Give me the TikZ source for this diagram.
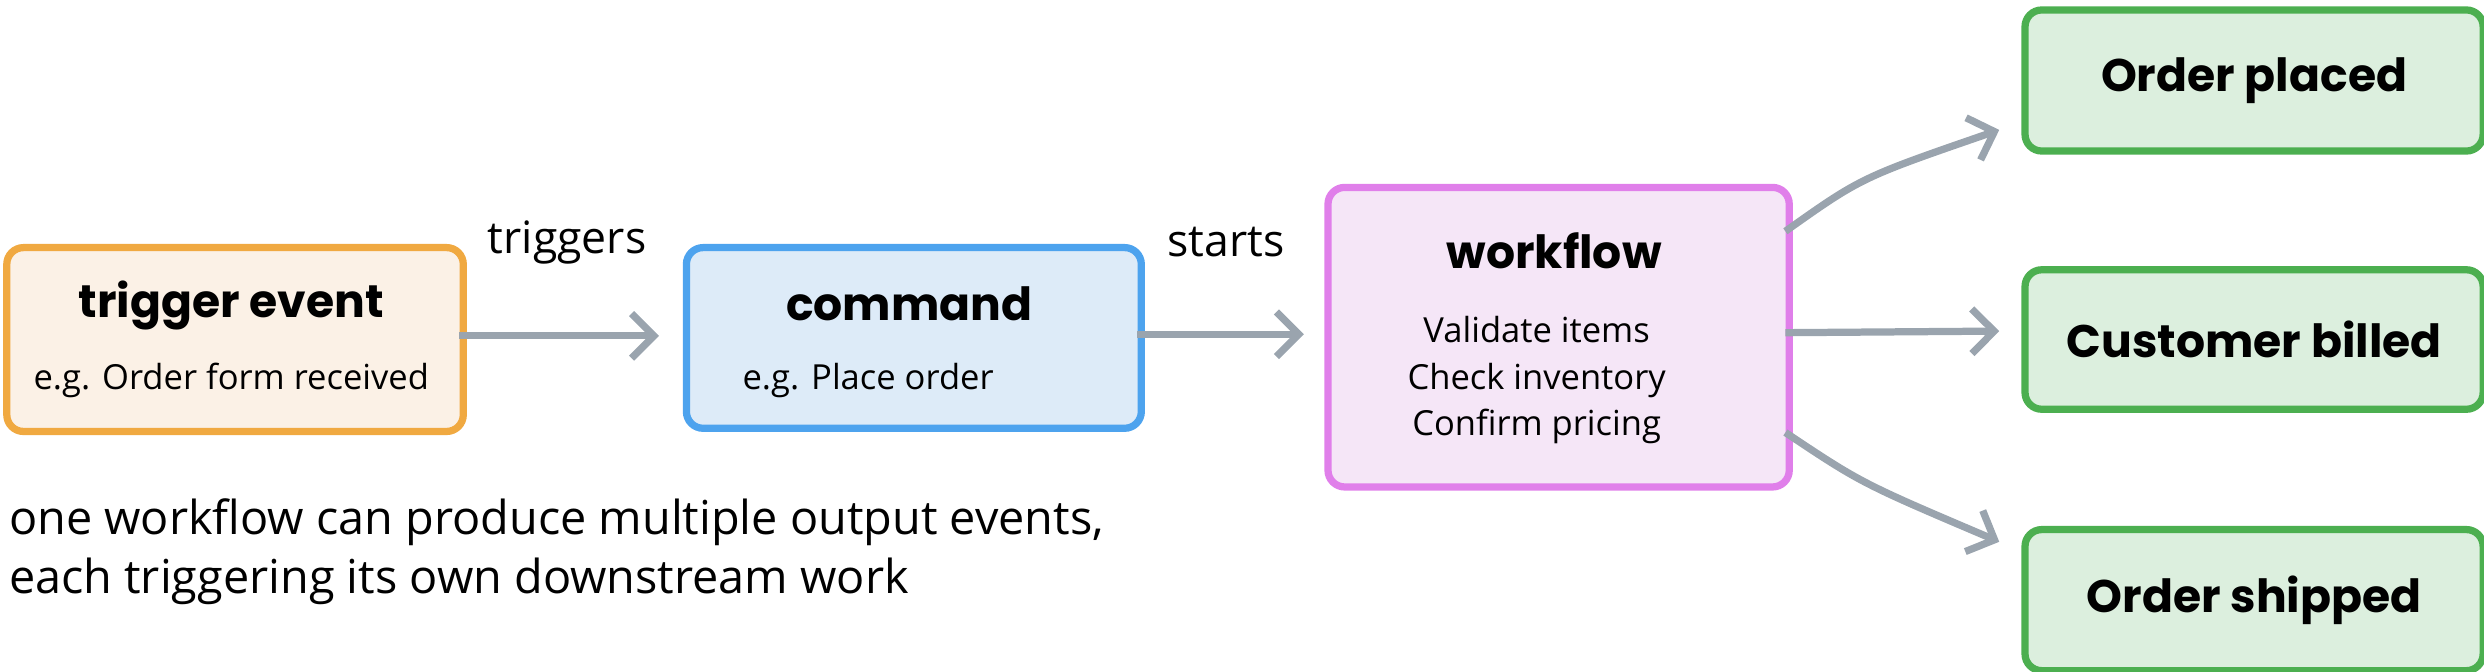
\documentclass[tikz,border=0pt]{standalone}
\usepackage{fontspec}
\setmainfont{Open Sans}
\newfontfamily\titlefont{Poppins}
\usetikzlibrary{arrows.meta}
\definecolor{orgB}{HTML}{F0A941}\definecolor{orgF}{HTML}{FBF1E6}
\definecolor{bluB}{HTML}{4DA3EE}\definecolor{bluF}{HTML}{DDEBF8}
\definecolor{purB}{HTML}{E07FEA}\definecolor{purF}{HTML}{F5E6F7}
\definecolor{grnB}{HTML}{4CAF50}\definecolor{grnF}{HTML}{DCEFDE}
\definecolor{arr}{HTML}{9AA4AE}
\begin{document}
\begin{tikzpicture}[x=0.01cm,y=-0.01cm,
  boxs/.style={draw, line width=1.3pt, rounded corners=3pt, inner sep=0pt},
  ttl/.style={font=\titlefont\fontsize{8.2}{9}\selectfont\bfseries},
  sub/.style={font=\fontsize{6.2}{8.4}\selectfont},
  conn/.style={draw=arr, line width=1.3pt, -{Straight Barb[length=4pt,width=8pt]}}]
\useasboundingbox (0,0) rectangle (1568,424);
\node[boxs, draw=orgB, fill=orgF, minimum width=2.88cm, minimum height=1.16cm, anchor=north west] (te) at (2,154) {};
\node[ttl] at (146,193) {trigger event};
\node[sub] at (146,240) {e.g. Order form received};
\node[boxs, draw=bluB, fill=bluF, minimum width=2.87cm, minimum height=1.14cm, anchor=north west] (cm) at (431,154) {};
\node[ttl] at (574,192) {command};
\node[sub] at (548,240) {e.g. Place order};
\node[boxs, draw=purB, fill=purF, minimum width=2.91cm, minimum height=1.89cm, anchor=north west] (wf) at (836,116) {};
\node[ttl] at (981,158) {workflow};
\node[sub, align=center] at (970,240) {Validate items\\Check inventory\\Confirm pricing};
\node[boxs, draw=grnB, fill=grnF, minimum width=2.89cm, minimum height=0.89cm, anchor=north west, ttl] (o1) at (1276,4) {Order placed};
\node[boxs, draw=grnB, fill=grnF, minimum width=2.89cm, minimum height=0.88cm, anchor=north west, ttl] (o2) at (1276,168) {Customer billed};
\node[boxs, draw=grnB, fill=grnF, minimum width=2.89cm, minimum height=0.89cm, anchor=north west, ttl] (o3) at (1276,332) {Order shipped};
\coordinate (a1) at (290,212); \coordinate (a2) at (416,212);
\coordinate (b1) at (718,211); \coordinate (b2) at (823,211);
\coordinate (c1) at (1127,146); \coordinate (c2) at (1262,82);
\coordinate (d1) at (1127,210); \coordinate (d2) at (1262,209);
\coordinate (e1) at (1127,273); \coordinate (e2) at (1262,342);
\draw[conn] (a1) -- (a2);
\draw[conn] (b1) -- (b2);
\draw[conn] (c1) .. controls (1175,112) .. (c2);
\draw[conn] (d1) -- (d2);
\draw[conn] (e1) .. controls (1175,305) .. (e2);
\node[font=\fontsize{8}{9}\selectfont] at (358,153) {triggers};
\node[font=\fontsize{8}{9}\selectfont] at (774,153) {starts};
\node[anchor=west, align=left, inner sep=0pt, font=\fontsize{8.4}{10.6}\selectfont] at (5,348) {one workflow can produce multiple output events,\\each triggering its own downstream work};
\end{tikzpicture}
\end{document}
